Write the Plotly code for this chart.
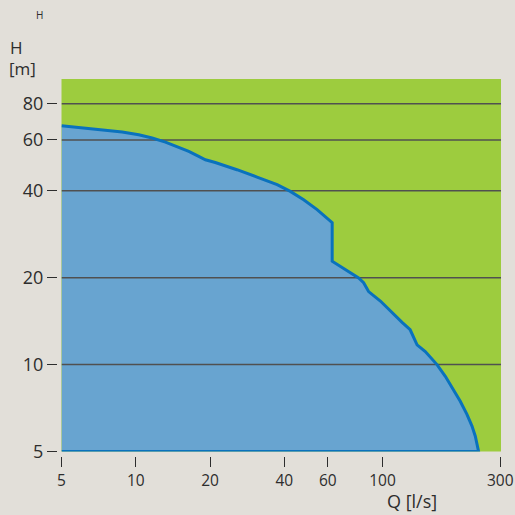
import math
import plotly.graph_objects as go

# Performance envelope
q_flow = [5, 5.70, 6.45, 7.77, 8.81, 10.28, 11.65, 13.19, 14.93, 16.4, 17.99, 19.15,
          21.0, 23.1, 25.7, 31.0, 37.4, 42.3, 47.9, 54.3, 62.5, 62.5,
          70.7, 80.0, 83.8, 87.8, 98.0, 109.2, 120, 129.4, 133.6, 138, 149,
          153.7, 166.2, 179.6, 194.1, 206.5, 219.8, 230.4, 237.6, 242.7, 245]
h_head = [67.2, 66.4, 65.9, 64.7, 63.9, 62.5, 60.9, 58.96, 56.7, 54.7, 52.6, 51.2,
          50.1, 48.8, 47.3, 44.6, 42.0, 39.8, 37.2, 34.4, 31.0, 22.8,
          21.3, 19.95, 19.2, 17.9, 16.6, 15.1, 14.0, 13.2, 12.5, 11.7, 11.1,
          10.8, 10.0, 9.11, 8.19, 7.46, 6.72, 6.12, 5.65, 5.21, 5.0]

x_ticks = [5, 10, 20, 40, 60, 100, 300]
y_ticks = [5, 10, 20, 40, 60, 80]

q_min, q_max = 5, 302
h_min, h_max = 5, 97.5

BG = "#e2dfd9"
GREEN = "#9dcc3e"
FILL = "#68a4d0"
LINE = "#0a72bd"
GRID = "#505050"
TXT = "#2d2d2d"
FONT = "Open Sans"

q_line = q_flow + [q_min]
h_line = h_head + [h_min]

# horizontal grid lines (drawn above the fill, like the reference)
grid_x, grid_y = [], []
for v in y_ticks[1:]:
    grid_x += [q_min, q_max, None]
    grid_y += [v, v, None]

fig = go.Figure()
fig.add_trace(go.Scatter(x=q_line, y=h_line, mode="lines", fill="toself",
                         fillcolor=FILL, line=dict(width=0), hoverinfo="skip",
                         showlegend=False))
fig.add_trace(go.Scatter(x=grid_x, y=grid_y, mode="lines",
                         line=dict(color=GRID, width=1.5), hoverinfo="skip",
                         showlegend=False))
fig.add_trace(go.Scatter(x=q_line, y=h_line, mode="lines",
                         line=dict(color=LINE, width=3), cliponaxis=False,
                         showlegend=False))

W, H = 515, 515
ml, mr, mt, mb = 57, 14, 79, 59
pw = W - ml - mr
ph = H - mt - mb
gap = 4.5


def px(x):
    return (x - ml) / pw


def py(y):
    return (H - mb - y) / ph


fig.update_layout(
    width=W, height=H, autosize=False,
    margin=dict(l=ml, r=mr, t=mt, b=mb, pad=0, autoexpand=False),
    paper_bgcolor=BG, plot_bgcolor=GREEN,
    font=dict(family=FONT, color=TXT, size=16),
    xaxis=dict(type="log", range=[math.log10(q_min), math.log10(q_max)],
               domain=[gap / pw, 1], anchor="free", position=0, automargin=False,
               tickvals=x_ticks, ticktext=[str(v) for v in x_ticks],
               ticks="outside", ticklen=10, tickwidth=1.3, tickcolor=TXT,
               showgrid=False, zeroline=False, showline=False,
               tickfont=dict(size=15.5, color=TXT)),
    yaxis=dict(type="log", range=[math.log10(h_min), math.log10(h_max)],
               domain=[gap / ph, 1], anchor="free", position=0, automargin=False,
               tickvals=y_ticks, ticktext=[str(v) for v in y_ticks],
               ticks="outside", ticklen=10, tickwidth=1.3, tickcolor=TXT,
               showgrid=False, zeroline=False, showline=False,
               tickfont=dict(size=18, color=TXT)),
    annotations=[
        dict(text="Q [l/s]", xref="paper", yref="paper", x=px(412), y=py(501),
             xanchor="center", yanchor="middle", showarrow=False,
             font=dict(size=18, color=TXT)),
        dict(text="H", xref="paper", yref="paper", x=px(8), y=py(48),
             xanchor="left", yanchor="middle", showarrow=False,
             font=dict(size=17, color=TXT)),
        dict(text="[m]", xref="paper", yref="paper", x=px(7), y=py(69),
             xanchor="left", yanchor="middle", showarrow=False,
             font=dict(size=17, color=TXT)),
        dict(text="H", xref="paper", yref="paper", x=px(39.5), y=py(15),
             xanchor="center", yanchor="middle", showarrow=False,
             font=dict(size=10, color=TXT)),
    ],
)

fig.write_html("out.html", config={"displayModeBar": False},
               post_script="document.body.style.margin='0';document.body.style.overflow='hidden';")
